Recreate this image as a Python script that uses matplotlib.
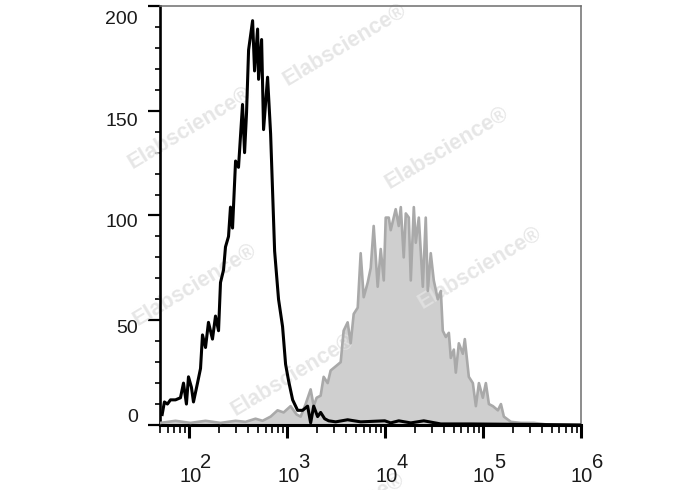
import numpy as np
import matplotlib
matplotlib.use('Agg')
from matplotlib import pyplot as plt
from matplotlib.ticker import LogLocator, MultipleLocator, NullFormatter
import matplotlib.transforms as mtransforms

plt.rcParams['font.family'] = ['Liberation Sans', 'DejaVu Sans']

# black open histogram (control), x as log10 of fluorescence
black_log = [1.721, 1.744, 1.775, 1.806, 1.857, 1.908, 1.939, 1.969, 1.990, 2.020,
             2.041, 2.082, 2.113, 2.133, 2.164, 2.194, 2.235, 2.266, 2.297, 2.317,
             2.348, 2.368, 2.399, 2.419, 2.440, 2.471, 2.501, 2.542, 2.563, 2.583,
             2.604, 2.645, 2.665, 2.696, 2.706, 2.737, 2.757, 2.798, 2.829, 2.870,
             2.910, 2.951, 2.982, 3.013, 3.054, 3.105, 3.156, 3.207, 3.238, 3.269,
             3.309, 3.340, 3.381, 3.422, 3.494, 3.616, 3.749, 3.995, 4.056, 4.138,
             4.261, 4.394, 4.568, 4.875, 5.386, 6.0]
black_count = [5, 11, 10, 12, 12, 13, 20, 10, 23, 18,
               11, 20, 27, 43, 37, 49, 41, 52, 45, 68,
               74, 85, 90, 104, 94, 126, 123, 153, 130, 149,
               179, 193, 169, 189, 165, 184, 141, 166, 139, 83,
               60, 47, 29, 21, 12, 7, 7, 9, 1, 9,
               4, 6, 3, 2, 1.5, 2.5, 1.5, 2, 1, 2,
               1, 2, 0.5, 0.5, 0.3, 0]

# gray filled histogram (stained)
gray_log = [1.703, 1.857, 2.010, 2.164, 2.317, 2.471, 2.573, 2.675, 2.747, 2.829,
            2.900, 2.962, 3.033, 3.095, 3.136, 3.187, 3.238, 3.269, 3.299, 3.340,
            3.371, 3.412, 3.442, 3.494, 3.545, 3.575, 3.616, 3.647, 3.678, 3.719,
            3.749, 3.780, 3.821, 3.852, 3.882, 3.923, 3.954, 3.985, 4.005, 4.036,
            4.056, 4.107, 4.138, 4.159, 4.189, 4.210, 4.241, 4.261, 4.292, 4.312,
            4.343, 4.384, 4.414, 4.435, 4.465, 4.496, 4.537, 4.568, 4.588, 4.619,
            4.650, 4.670, 4.701, 4.721, 4.752, 4.793, 4.813, 4.854, 4.895, 4.926,
            4.957, 4.997, 5.028, 5.059, 5.100, 5.151, 5.182, 5.212, 5.284, 5.386,
            5.519, 5.642, 6.0]
gray_count = [1, 2, 1, 2, 1, 2, 1.5, 3, 2, 4,
              7, 6, 9, 5, 4, 10, 17, 9, 13, 14,
              23, 20, 26, 28, 30, 45, 49, 39, 53, 56,
              82, 61, 68, 75, 95, 66, 84, 69, 99, 99,
              93, 103, 95, 104, 80, 101, 99, 69, 104, 87,
              99, 66, 99, 64, 82, 69, 60, 64, 45, 42,
              44, 32, 36, 25, 39, 34, 41, 23, 20, 9,
              20, 13, 20, 10, 9, 7, 10, 4, 1.5, 1,
              1, 0.3, 0]

y_ticks = [0, 50, 100, 150, 200]
x_decades = [2, 3, 4, 5, 6]

W, H = 688, 490
fig = plt.figure(figsize=(W / 100, H / 100), dpi=100)
ax = fig.add_axes([160 / W, 1 - 425 / H, (581 - 160) / W, (425 - 6) / H])

bx = 10 ** np.array(black_log)
gx = 10 ** np.array(gray_log)

ax.fill_between(gx, gray_count, 0, color='#cfcfcf', lw=0, zorder=2)
ax.plot(gx, gray_count, color='#a9a9a9', lw=1.9, zorder=3)
ax.plot(bx, black_count, color='black', lw=2.2, zorder=4)

ax.set_xscale('log')
ax.set_xlim(50, 1e6)
ax.set_ylim(0, 200)

ax.xaxis.set_major_locator(LogLocator(base=10, numticks=20))
ax.xaxis.set_minor_locator(LogLocator(base=10, subs=np.arange(2, 10), numticks=20))
ax.xaxis.set_major_formatter(NullFormatter())
ax.xaxis.set_minor_formatter(NullFormatter())
ax.yaxis.set_major_locator(MultipleLocator(50))
ax.yaxis.set_minor_locator(MultipleLocator(10))
ax.yaxis.set_major_formatter(NullFormatter())

ax.tick_params(axis='x', which='major', direction='out', length=9.5, width=2.2, color='black')
ax.tick_params(axis='x', which='minor', direction='out', length=5.5, width=1.2, color='black')
ax.tick_params(axis='y', which='major', direction='out', length=8.5, width=1.6, color='black')
ax.tick_params(axis='y', which='minor', direction='out', length=3.8, width=1.2, color='black')

ax.spines['left'].set_linewidth(1.9)
ax.spines['bottom'].set_linewidth(2.2)
ax.spines['top'].set_linewidth(1.1)
ax.spines['right'].set_linewidth(1.1)
ax.spines['top'].set_color('#6e6e6e')
ax.spines['right'].set_color('#6e6e6e')

# y labels, drawn by hand since they sit a bit off their ticks in the original
ylab_shift = [-8, 8, 7, 11, 14]
for v, s in zip(y_ticks, ylab_shift):
    tr = mtransforms.blended_transform_factory(ax.transAxes, ax.transData) + \
        mtransforms.ScaledTranslation(-22 / 100, -s / 100, fig.dpi_scale_trans)
    ax.text(0, v, str(v), transform=tr, ha='right', va='center', fontsize=14,
            color='#1a1a1a', clip_on=False)

# x labels as 10 with a raised exponent
for d in x_decades:
    tr = mtransforms.blended_transform_factory(ax.transData, ax.transAxes)
    ax.text(10 ** d, 0, '10', transform=tr + mtransforms.ScaledTranslation(1 / 100, -52 / 100, fig.dpi_scale_trans),
            ha='center', va='center', fontsize=14.5, color='#1a1a1a', clip_on=False)
    ax.text(10 ** d, 0, str(d), transform=tr + mtransforms.ScaledTranslation(11 / 100, -37 / 100, fig.dpi_scale_trans),
            ha='left', va='center', fontsize=14.5, color='#1a1a1a', clip_on=False)

# watermark
marks = [(345, 45), (190, 128), (447, 148), (195, 285), (480, 268), (293, 375), (343, 514)]
for px, py in marks:
    ax.text(px / W, 1 - py / H, 'Elabscience\u00ae', transform=fig.transFigure, rotation=31,
            ha='center', va='center', fontsize=15.5, fontweight='bold', color='#e2e2e2',
            alpha=0.85, zorder=2.5, clip_on=False)

fig.savefig('out.png', dpi=100)
